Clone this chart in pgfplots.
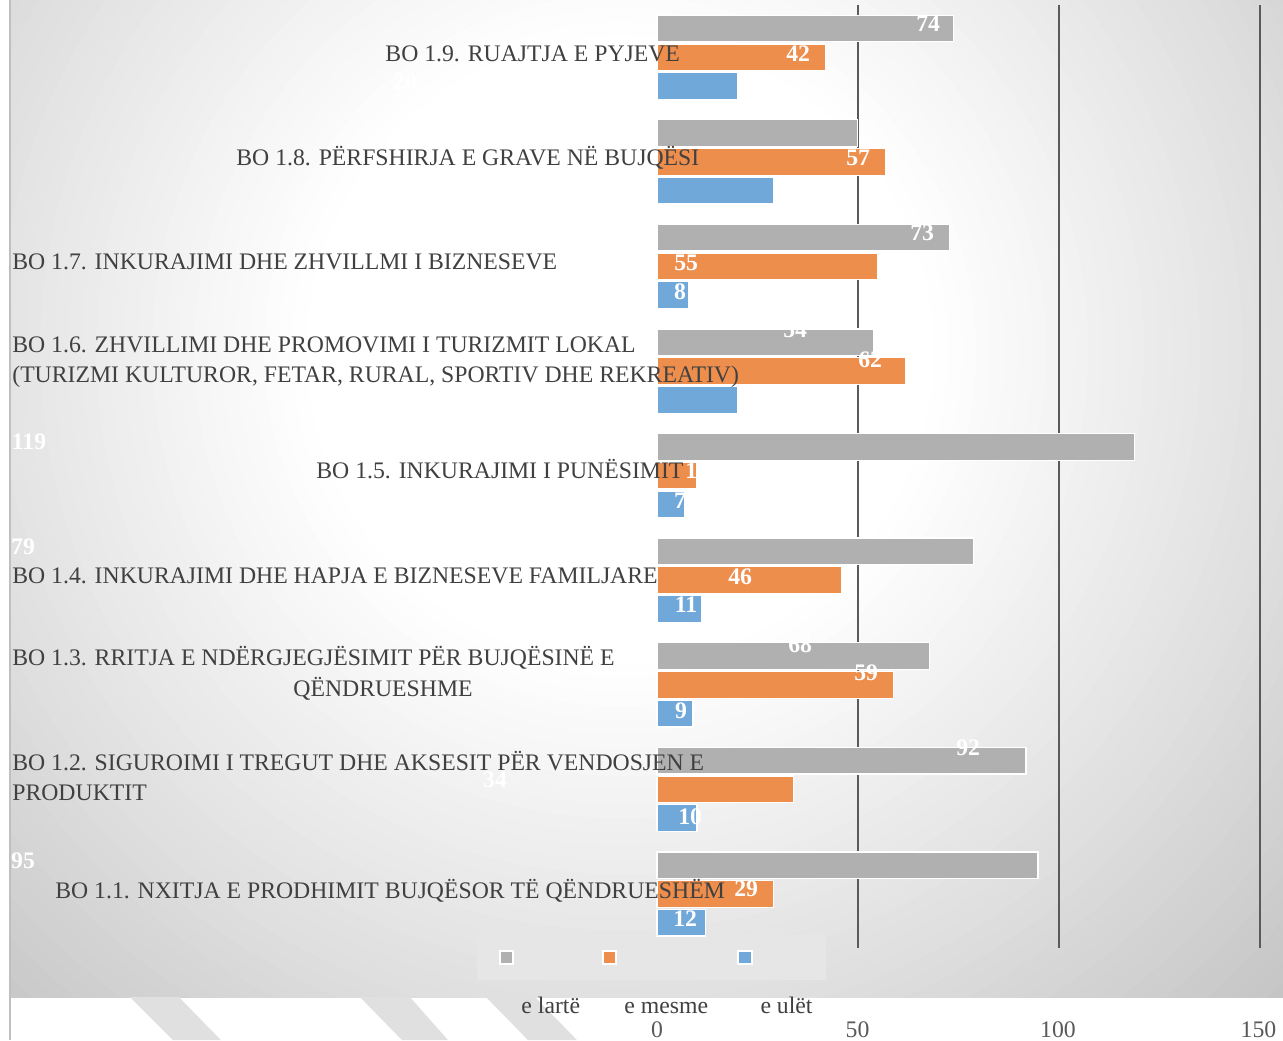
\documentclass[border=0pt]{standalone}
\usepackage{fontspec}
\setmainfont{Liberation Serif}
\usepackage{pgfplots}
\pgfplotsset{compat=1.18}
\definecolor{cGray}{HTML}{B0B0B0}
\definecolor{cOrange}{HTML}{EE8E4D}
\definecolor{cBlue}{HTML}{70A8DA}
\definecolor{cGrid}{HTML}{5A5A5A}
\definecolor{cText}{HTML}{404040}
\definecolor{cTick}{HTML}{595959}
\definecolor{cStripe}{HTML}{E0E0E0}
\definecolor{cLegend}{HTML}{E6E6E6}
\definecolor{cBorder}{HTML}{BFBFBF}
\newcommand\lbl{\fontsize{13.5pt}{16pt}\selectfont}
\begin{document}
\begin{tikzpicture}
\useasboundingbox (0,-0.86) rectangle (25.66,19.94);
\begin{scope}[x=0.02cm,y=-0.02cm,shift={(0cm,19.94cm)}]
  \begin{scope}
    \clip (10,0) rectangle (1283,997);
    \fill[black!25.5] (10,0) rectangle (1283,997);
    \foreach \i in {0,...,50} {
      \pgfmathsetmacro\r{1000-\i*14}
      \pgfmathsetmacro\g{ifthenelse(\r<650, 255-0.09*(\r-320), 225.3-0.1*(\r-650))}
      \pgfmathsetmacro\k{max(0,(255-\g)/2.55)}
      \fill[black!\k] (620,350) circle[radius=\r*0.02cm];
    }
  \end{scope}
  \fill[cStripe] (130,997) -- (179,997) -- (221,1040) -- (173,1040) -- cycle;
  \fill[cStripe] (360,997) -- (410,997) -- (448,1040) -- (402,1040) -- cycle;
  \fill[cStripe] (486,997) -- (535,997) -- (577,1040) -- (528,1040) -- cycle;
  \draw[cBorder, line width=0.04cm] (10,0) -- (10,1040);
  \foreach \g in {858,1059,1260} \draw[cGrid, line width=0.04cm] (\g,5) -- (\g,948);
  \draw[cGrid!60, line width=0.02cm] (657,943) -- (657,951);
  \fill[cLegend] (477,935) rectangle (826,980);
  \filldraw[fill=cGray, draw=white, line width=0.03cm] (500,951) rectangle (513,964);
  \filldraw[fill=cOrange, draw=white, line width=0.03cm] (603,951) rectangle (616,964);
  \filldraw[fill=cBlue, draw=white, line width=0.03cm] (738,951) rectangle (752,964);
\end{scope}
\begin{axis}[at={(0,0)}, anchor=south west, scale only axis,
  width=25.66cm, height=19.94cm,
  xmin=-163.84, xmax=156.11, ymin=0.0153, ymax=9.547,
  axis line style={draw=none}, tick style={draw=none}, major tick length=0pt,
  ytick=\empty, xtick={0,50,100,150}, xticklabels={0,50,100,150},
  xticklabel style={anchor=base, yshift=-0.8cm, font=\lbl, text=cTick, inner sep=0pt},
  clip=false]
\addplot[xbar, bar width=0.255, bar shift=0.275, fill=cGray, draw=white, line width=0.7pt]
  coordinates {(95,1) (92,2) (68,3) (79,4) (119,5) (54,6) (73,7) (50,8) (74,9)};
\addplot[xbar, bar width=0.255, bar shift=0, fill=cOrange, draw=white, line width=0.7pt]
  coordinates {(29,1) (34,2) (59,3) (46,4) (10,5) (62,6) (55,7) (57,8) (42,9)};
\addplot[xbar, bar width=0.255, bar shift=-0.275, fill=cBlue, draw=white, line width=0.7pt]
  coordinates {(12,1) (10,2) (9,3) (11,4) (7,5) (20,6) (8,7) (29,8) (20,9)};
\end{axis}
\begin{scope}[x=0.02cm,y=-0.02cm,shift={(0cm,19.94cm)},
  cat/.style={anchor=base west, inner sep=0pt, font=\lbl, text=cText},
  dl/.style={anchor=center, inner sep=0pt, font=\lbl\bfseries, text=white}]
  \node[cat] at (385,61) {BO 1.9. RUAJTJA E PYJEVE};
  \node[cat] at (236,165) {BO 1.8. PËRFSHIRJA E GRAVE NË BUJQËSI};
  \node[cat] at (12,269) {BO 1.7. INKURAJIMI DHE ZHVILLMI I BIZNESEVE};
  \node[cat] at (12,352) {BO 1.6. ZHVILLIMI DHE PROMOVIMI I TURIZMIT LOKAL};
  \node[cat] at (12,382) {(TURIZMI KULTUROR, FETAR, RURAL, SPORTIV DHE REKREATIV)};
  \node[cat] at (316,478) {BO 1.5. INKURAJIMI I PUNËSIMIT};
  \node[cat] at (12,583) {BO 1.4. INKURAJIMI DHE HAPJA E BIZNESEVE FAMILJARE};
  \node[cat] at (12,665) {BO 1.3. RRITJA E NDËRGJEGJËSIMIT PËR BUJQËSINË E};
  \node[cat] at (293,696) {QËNDRUESHME};
  \node[cat] at (12,770) {BO 1.2. SIGUROIMI I TREGUT DHE AKSESIT PËR VENDOSJEN E};
  \node[cat] at (12,800) {PRODUKTIT};
  \node[cat] at (55,898) {BO 1.1. NXITJA E PRODHIMIT BUJQËSOR TË QËNDRUESHËM};
  \node[dl] at (928,24) {74};
  \node[dl] at (798,54) {42};
  \node[dl] at (405,82) {20};
  \node[dl] at (444,128) {50};
  \node[dl] at (858,158) {57};
  \node[dl] at (922,233) {73};
  \node[dl] at (686,263) {55};
  \node[dl] at (680,292) {8};
  \node[dl] at (795,330) {54};
  \node[dl] at (870,360) {62};
  \node[dl] at (29,442) {119};
  \node[dl] at (697,471) {10};
  \node[dl] at (680,501) {7};
  \node[dl] at (23,547) {79};
  \node[dl] at (740,577) {46};
  \node[dl] at (686,605) {11};
  \node[dl] at (800,645) {68};
  \node[dl] at (866,673) {59};
  \node[dl] at (681,711) {9};
  \node[dl] at (968,748) {92};
  \node[dl] at (495,780) {34};
  \node[dl] at (690,817) {10};
  \node[dl] at (23,861) {95};
  \node[dl] at (746,889) {29};
  \node[dl] at (685,918) {12};
  \node[cat] at (521,1013) {e lartë};
  \node[cat] at (624,1013) {e mesme};
  \node[cat] at (760,1013) {e ulët};
\end{scope}
\end{tikzpicture}
\end{document}
